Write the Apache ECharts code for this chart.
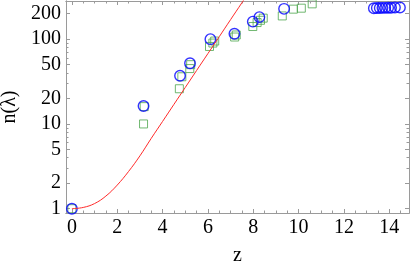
<!DOCTYPE html>
<html><head><meta charset="utf-8">
<script src="https://cdn.jsdelivr.net/npm/echarts@6/dist/echarts.min.js"></script>
<style>html,body{margin:0;padding:0;background:#fff}#c{width:415px;height:267px}</style>
</head><body><div id="c"></div>
<script>
// tick labels / tick positions
const xTickLabels = [0, 2, 4, 6, 8, 10, 12, 14];
const xMinorTicks = [0.5, 1, 1.5, 2.5, 3, 3.5, 4.5, 5, 5.5, 6.5, 7, 7.5, 8.5, 9, 9.5, 10.5, 11, 11.5, 12.5, 13, 13.5, 14.5];
const yTickLabels = [1, 2, 5, 10, 20, 50, 100, 200];
const yMinorTicks = [3, 4, 6, 7, 8, 9, 30, 40, 60, 70, 80, 90];

// blue circles
const circleZ = [0, 3.16, 4.77, 5.21, 6.11, 7.17, 7.98, 8.27, 9.36, 13.32, 13.45, 13.58, 13.70, 13.82, 13.95, 14.08, 14.25, 14.47];
const circleN = [1.0, 16.3, 37, 52, 100, 116, 161, 182, 228, 232, 233, 233, 234, 234, 235, 235, 236, 236];

// green squares
const squareZ = [0, 3.16, 3.19, 4.74, 4.85, 5.2, 5.24, 6.07, 6.22, 6.3, 7.18, 7.25, 7.98, 8.17, 8.32, 8.44, 9.28, 9.77, 10.12, 10.6];
const squareN = [1.0, 10, 16, 26, 36, 45, 50, 82, 90, 95, 106, 112, 141, 157, 167, 177, 188, 226, 232, 261];

// red curve
const curveZ = [0, 0.5, 1.0, 1.5, 2.0, 2.5, 3.0, 3.5, 4.0, 4.5, 5.0, 5.5, 6.0, 6.5, 7.0, 7.5, 8.0];
const curveN = [1.0, 1.035, 1.15, 1.41, 1.9, 2.75, 4.2, 6.76, 10.7, 17.0, 26.9, 42.7, 67.6, 107, 170, 269, 427];

const X_MIN = -0.26, X_MAX = 14.87, Y_MIN = 0.89, Y_MAX = 282;
const GRAY = '#9a9a9a';
const FONT = 'Liberation Serif';

function xAx(pos, ticks, len, labels) {
  return {
    type: 'value', position: pos, min: X_MIN, max: X_MAX,
    splitLine: {show: false},
    axisLine: {show: true, onZero: false, lineStyle: {color: GRAY, width: 1}},
    axisTick: {show: true, inside: true, length: len, customValues: ticks, lineStyle: {color: GRAY, width: 1}},
    axisLabel: labels ? {show: true, customValues: ticks, margin: 5, color: '#000', fontFamily: FONT, fontSize: 20} : {show: false},
    name: labels ? 'z' : '', nameLocation: 'middle', nameGap: 33,
    nameTextStyle: {color: '#000', fontFamily: FONT, fontSize: 20}
  };
}
function yAx(pos, ticks, len, labels) {
  return {
    type: 'log', logBase: 10, position: pos, min: Y_MIN, max: Y_MAX,
    splitLine: {show: false},
    axisLine: {show: true, onZero: false, lineStyle: {color: GRAY, width: 1}},
    axisTick: {show: true, inside: true, length: len, customValues: ticks, lineStyle: {color: GRAY, width: 1}},
    axisLabel: labels ? {show: true, customValues: ticks, margin: 5, color: '#000', fontFamily: FONT, fontSize: 20} : {show: false},
    name: labels ? 'n(λ)' : '', nameLocation: 'middle', nameGap: 44,
    nameTextStyle: {color: '#000', fontFamily: FONT, fontSize: 20}
  };
}

const chart = echarts.init(document.getElementById('c'), null, {renderer: 'canvas'});
chart.setOption({
  animation: false,
  backgroundColor: '#fff',
  grid: {left: 66, top: 1, right: 6, bottom: 54, containLabel: false, outerBoundsMode: 'none'},
  xAxis: [
    xAx('bottom', xTickLabels, 4, true),
    xAx('bottom', xMinorTicks, 2.5, false),
    xAx('top', xTickLabels, 4, false),
    xAx('top', xMinorTicks, 2.5, false)
  ],
  yAxis: [
    yAx('left', yTickLabels, 4, true),
    yAx('left', yMinorTicks, 2.5, false),
    yAx('right', yTickLabels, 4, false),
    yAx('right', yMinorTicks, 2.5, false)
  ],
  series: [
    {
      type: 'line', xAxisIndex: 0, yAxisIndex: 0,
      data: curveZ.map((z, i) => [z, curveN[i]]),
      showSymbol: false, smooth: 0.4, clip: true,
      lineStyle: {color: '#ff2a2a', width: 1}
    },
    {
      type: 'scatter', xAxisIndex: 0, yAxisIndex: 0,
      data: squareZ.map((z, i) => [z, squareN[i]]),
      symbol: 'rect', symbolSize: 8,
      itemStyle: {color: 'rgba(0,0,0,0)', borderColor: '#4ea64e', borderWidth: 1}
    },
    {
      type: 'scatter', xAxisIndex: 0, yAxisIndex: 0,
      data: circleZ.map((z, i) => [z, circleN[i]]),
      symbol: 'circle', symbolSize: 10.5,
      itemStyle: {color: 'rgba(0,0,0,0)', borderColor: '#0000ff', borderWidth: 1.4}
    }
  ]
});
</script>
</body></html>
